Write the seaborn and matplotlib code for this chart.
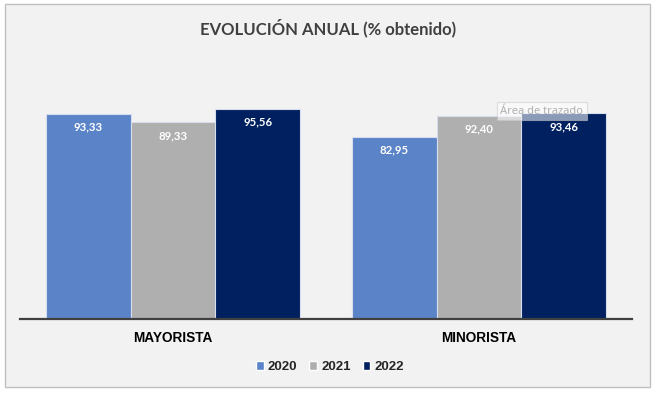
import pandas as pd
import matplotlib.pyplot as plt
import seaborn as sns
from matplotlib.patches import Rectangle

# Data
categories = ['MAYORISTA', 'MINORISTA']
years = ['2020', '2021', '2022']
values_2020 = [93.33, 82.95]
values_2021 = [89.33, 92.40]
values_2022 = [95.56, 93.46]
colors = ['#5b84c8', '#afafaf', '#002060']

series = [values_2020, values_2021, values_2022]
df = pd.DataFrame({
    'segmento': [c for _ in years for c in categories],
    'anio': [y for y in years for _ in categories],
    'valor': [v for vals in series for v in vals],
})

sns.set_style("white")
plt.rcParams['font.family'] = ['Liberation Sans', 'DejaVu Sans']

fig = plt.figure(figsize=(6.56, 3.95), dpi=100, facecolor='white')
# chart area background and border
fig.patches.append(Rectangle((5 / 656, 1 - 387 / 395), 645 / 656, 383 / 395,
                             transform=fig.transFigure, facecolor='#f2f2f2',
                             edgecolor='#bfbfbf', linewidth=1, zorder=-5))

ax = fig.add_axes([20 / 656, 1 - 319 / 395, 612 / 656, 220 / 395])
ax.set_facecolor('none')
ax.set_zorder(2)

sns.barplot(data=df, x='segmento', y='valor', hue='anio', palette=colors,
            width=0.83, edgecolor='#d6deee', linewidth=0.8, saturation=1,
            legend=False, ax=ax)

ax.set_ylim(0, 100)
ax.set_xlim(-0.5, 1.5)
ax.set_yticks([])
ax.set_xlabel('')
ax.set_ylabel('')
for s in ['top', 'right', 'left']:
    ax.spines[s].set_visible(False)
ax.spines['bottom'].set_color('#404040')
ax.spines['bottom'].set_linewidth(1.6)
ax.tick_params(axis='x', length=0, pad=9, labelsize=9.8, labelcolor='black')
for lab in ax.get_xticklabels():
    lab.set_fontweight('bold')

# value labels inside the top of each bar
for container, vals in zip(ax.containers, series):
    for bar, v in zip(container, vals):
        ax.annotate(f"{v:.2f}".replace('.', ','),
                    (bar.get_x() + bar.get_width() / 2, bar.get_height()),
                    xytext=(0, -9.5), textcoords='offset points',
                    ha='center', va='center', color='white',
                    fontsize=8.2, fontweight='bold', family='Lato')

fig.text(0.5, 1 - 28 / 395, 'EVOLUCIÓN ANUAL (% obtenido)', ha='center', va='center',
         fontsize=12, fontweight='bold', family='Lato', color='#404040')

handles = [Rectangle((0, 0), 1, 1, facecolor=c) for c in colors]
fig.legend(handles, years, loc='center', bbox_to_anchor=(330 / 656, 1 - 367 / 395),
           ncol=3, frameon=False, handlelength=0.6, handleheight=0.6,
           handletextpad=0.3, columnspacing=0.9,
           prop={'weight': 'bold', 'size': 9.5})

# Excel hover tooltip visible in the original
fig.text(542 / 656, 1 - 111 / 395, 'Área de trazado', ha='center', va='center',
         fontsize=8, color='#b0b0b0', family='Noto Sans', zorder=10,
         bbox=dict(boxstyle='square,pad=0.3', facecolor='white', alpha=0.55,
                   edgecolor='#c8c8c8', linewidth=0.8))

fig.savefig('out.png', dpi=100)
